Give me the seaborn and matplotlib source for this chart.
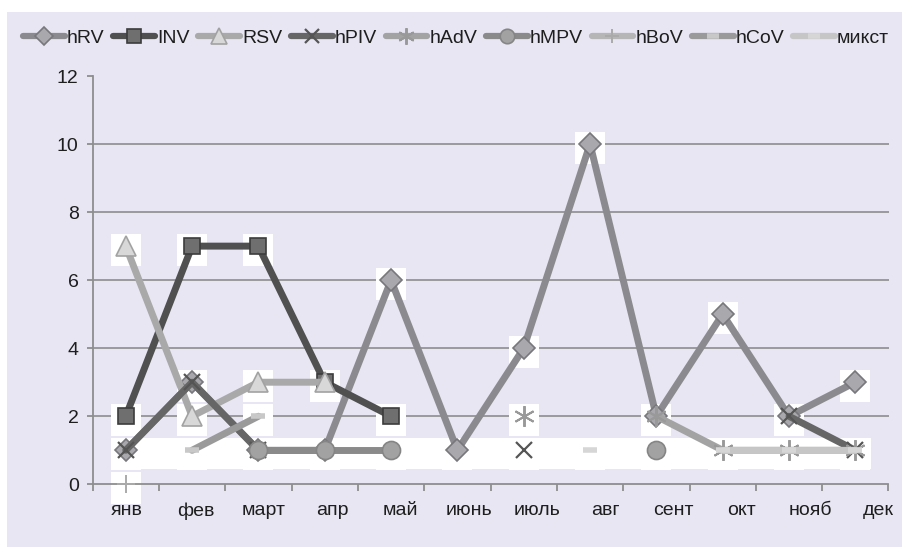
import numpy as np
import pandas as pd
import matplotlib
matplotlib.use("Agg")
import matplotlib.pyplot as plt
from matplotlib.path import Path
from matplotlib.lines import Line2D
from matplotlib.patches import Rectangle
import seaborn as sns

# ---- data -------------------------------------------------------------
months = ["янв", "фев", "март", "апр", "май", "июнь",
          "июль", "авг", "сент", "окт", "нояб", "дек"]
nan = np.nan
hRV = [1, 3, 1, 1, 6, 1, 4, 10, 2, 5, 2, 3]
INV = [2, 7, 7, 3, 2, nan, nan, nan, nan, nan, nan, nan]
RSV = [7, 2, 3, 3, nan, nan, nan, nan, nan, nan, nan, nan]
hPIV = [1, 3, 1, nan, nan, nan, 1, nan, nan, nan, 2, 1]
hAdV = [nan, nan, nan, nan, nan, nan, 2, nan, 2, 1, 1, 1]
hMPV = [nan, nan, 1, 1, 1, nan, nan, nan, 1, nan, nan, nan]
hBoV = [0, nan, nan, nan, nan, nan, nan, nan, nan, nan, nan, nan]
hCoV = [nan, 1, 2, nan, nan, nan, nan, nan, nan, nan, nan, nan]
mixed = [nan, nan, nan, nan, nan, nan, nan, 1, nan, 1, 1, 1]

series_names = ["hRV", "INV", "RSV", "hPIV", "hAdV", "hMPV", "hBoV", "hCoV", "микст"]
series_values = [hRV, INV, RSV, hPIV, hAdV, hMPV, hBoV, hCoV, mixed]
y_ticks = [0, 2, 4, 6, 8, 10, 12]

# ---- styles -----------------------------------------------------------
styles = {
    "hRV":   dict(color="#8b8b8f", marker="D", ms=11, mfc="#a9a9ad", mec="#78787c", mew=1.2),
    "INV":   dict(color="#505050", marker="s", ms=12, mfc="#6f6f6f", mec="#3c3c3c", mew=1.2),
    "RSV":   dict(color="#a9a9a9", marker="^", ms=14, mfc="#d8d8d8", mec="#a2a2a2", mew=1.2),
    "hPIV":  dict(color="#666666", marker="x", ms=12, mfc="#555555", mec="#555555", mew=1.6),
    "hAdV":  dict(color="#a3a3a3", marker=(6, 2, 0), ms=15, mfc="#999999", mec="#999999", mew=1.4),
    "hMPV":  dict(color="#8a8a8a", marker="o", ms=13, mfc="#a2a2a2", mec="#858585", mew=1.2),
    "hBoV":  dict(color="#b6b6b6", marker="+", ms=13, mfc="#aaaaaa", mec="#aaaaaa", mew=1.4),
    "hCoV":  dict(color="#9a9a9a", marker="_", ms=10, mfc="#c8c8c8", mec="#c8c8c8", mew=4),
    "микст": dict(color="#c6c6c6", marker="_", ms=10, mfc="#d6d6d6", mec="#d6d6d6", mew=4),
}
LINE_W = 5.0
LAVENDER = "#e8e6f2"
TEXT = "#1e1e1e"
AXIS_GREY = "#8e8e8e"

sns.set_theme(style="white")
plt.rcParams["font.family"] = ["Liberation Sans", "DejaVu Sans"]

W, H = 902, 547
fig = plt.figure(figsize=(W / 100, H / 100), dpi=100, facecolor="white")
fig.patches.append(Rectangle((7 / W, 0), 1, (H - 12) / H, transform=fig.transFigure,
                             facecolor=LAVENDER, edgecolor="none", zorder=-5))
ax = fig.add_axes([92.6 / W, (H - 484.3) / H, (888.5 - 92.6) / W, (484.3 - 76) / H])
ax.set_facecolor("none")

x_idx = np.arange(len(months))

# white label boxes behind the markers (offset slightly below the point)
box = Path([(-15, -20), (15, -20), (15, 12), (-15, 12), (-15, -20)],
           [Path.MOVETO, Path.LINETO, Path.LINETO, Path.LINETO, Path.CLOSEPOLY])
all_x, all_y = [], []
for vals in series_values:
    v = np.asarray(vals, dtype=float)
    ok = ~np.isnan(v)
    all_x.extend(x_idx[ok])
    all_y.extend(v[ok])
all_x = np.array(all_x)
all_y = np.array(all_y)
ax.scatter(all_x, all_y, marker=box, s=(40 * 0.72) ** 2, c="white",
           linewidths=0, zorder=1.5, clip_on=False)

# continuous white strip along the level of one case
ones = all_x[all_y == 1]
ax.fill_between([ones.min() - 0.23, ones.max() + 0.23], 1 - 19 / 34, 1 + 12 / 34,
                color="white", lw=0, zorder=1.5)

# lines: contiguous runs only (gaps where a month has no value)
for name, vals in zip(series_names, series_values):
    v = np.asarray(vals, dtype=float)
    ok = ~np.isnan(v)
    seg = np.cumsum(np.r_[True, ok[1:] != ok[:-1]])
    df = pd.DataFrame({"x": x_idx[ok], "y": v[ok], "seg": seg[ok]})
    st = styles[name]
    sns.lineplot(data=df, x="x", y="y", units="seg", estimator=None, ax=ax,
                 color=st["color"], lw=LINE_W, marker=st["marker"], markersize=st["ms"],
                 markerfacecolor=st["mfc"], markeredgecolor=st["mec"],
                 markeredgewidth=st["mew"], solid_joinstyle="round",
                 solid_capstyle="round", legend=False, zorder=3, clip_on=False)

# axes
ax.set_xlim(-0.5, len(months) - 0.5)
ax.set_ylim(0, 12)
ax.set_xlabel("")
ax.set_ylabel("")
for s in ["top", "right"]:
    ax.spines[s].set_visible(False)
for s in ["left", "bottom"]:
    ax.spines[s].set_color(AXIS_GREY)
    ax.spines[s].set_linewidth(1.3)
    ax.spines[s].set_zorder(2)

ax.set_yticks(y_ticks)
ax.set_yticklabels([str(t) for t in y_ticks])
ax.tick_params(axis="y", which="major", length=4, width=1.3, color=AXIS_GREY,
               labelsize=14, labelcolor=TEXT, pad=6, left=True)

ax.set_xticks(np.arange(len(months) + 1) - 0.5)
ax.set_xticklabels([])
ax.tick_params(axis="x", which="major", length=5, width=1.3, color=AXIS_GREY,
               bottom=True, direction="out")
label_pos = np.linspace(0.02, 11.35, len(months))
ax.set_xticks(label_pos, minor=True)
ax.set_xticklabels(months, minor=True)
ax.tick_params(axis="x", which="minor", length=0, labelsize=14, labelcolor=TEXT, pad=13)

ax.yaxis.grid(True, color="#949494", lw=1.3)
ax.xaxis.grid(False)
for loc, gl in zip(ax.get_yticks(), ax.get_ygridlines()):
    if loc in (0, 12):
        gl.set_visible(False)
ax.set_axisbelow(True)

# legend
handles = []
for name in series_names:
    st = styles[name]
    handles.append(Line2D([], [], color=st["color"], lw=4.5, marker=st["marker"],
                          markersize=st["ms"] * 0.8, markerfacecolor=st["mfc"],
                          markeredgecolor=st["mec"], markeredgewidth=st["mew"],
                          solid_capstyle="round"))
fig.legend(handles, series_names, loc="center", bbox_to_anchor=(456 / W, 1 - 38 / H),
           ncol=len(series_names), frameon=False, fontsize=14, handlelength=2.15,
           handletextpad=0.1, columnspacing=0.45, labelcolor=TEXT)

fig.savefig("out.png", dpi=100, facecolor="white")
